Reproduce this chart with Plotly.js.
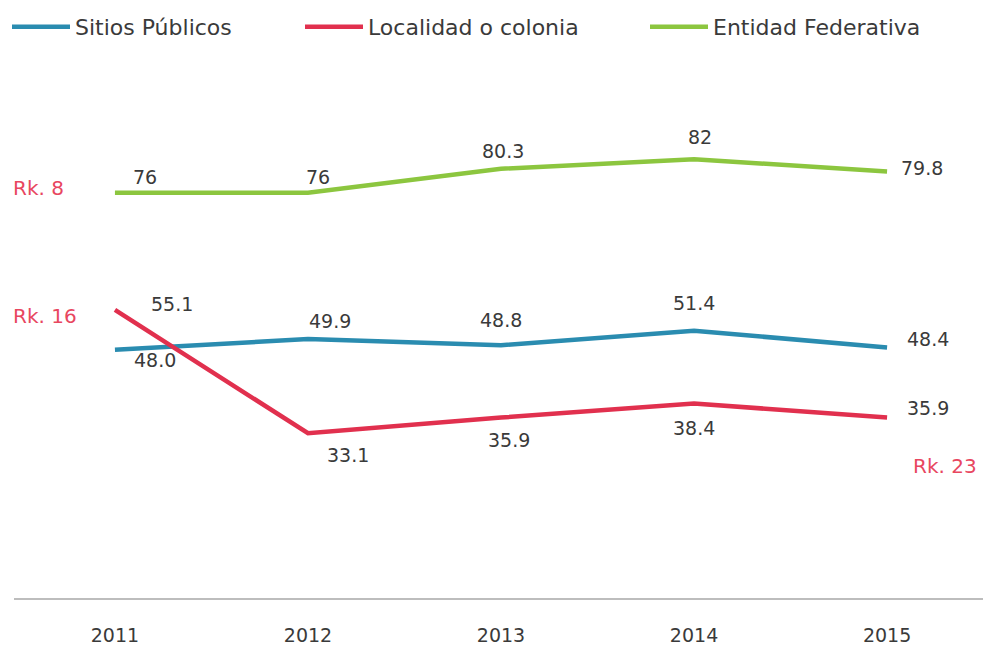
<!DOCTYPE html>
<html>
<head>
<meta charset="utf-8">
<script src="https://cdn.plot.ly/plotly-3.0.1.min.js"></script>
<style>html,body{margin:0;padding:0;background:#fff;}#chart{width:983px;height:648px;}</style>
</head>
<body>
<div id="chart"></div>
<script>
const years = [2011, 2012, 2013, 2014, 2015];
const sitiosPublicos = [48.0, 49.9, 48.8, 51.4, 48.4];
const localidadColonia = [55.1, 33.1, 35.9, 38.4, 35.9];
const entidadFederativa = [76, 76, 80.3, 82, 79.8];
const seriesNames = ["Sitios Públicos", "Localidad o colonia", "Entidad Federativa"];
const seriesColors = ["#2a8cb0", "#e1304e", "#8cc63f"];
const rankLabels = ["Rk. 8", "Rk. 16", "Rk. 23"];

const font = "'DejaVu Sans', sans-serif";
const textColor = "#3a3a3a";
const rankColor = "#e8475f";

const allSeries = [sitiosPublicos, localidadColonia, entidadFederativa];
const legendIds = ["legend", "legend2", "legend3"];
const traces = allSeries.map((vals, i) => ({
  x: years, y: vals, type: "scatter", mode: "lines", name: seriesNames[i],
  legend: legendIds[i],
  line: {color: seriesColors[i], width: 4.5},
  hoverinfo: "x+y"
}));

// label placement per series/point: [xshift, yshift, xanchor]
const offs = [
  [[40, -10, "center"], [22, 18, "center"], [0, 25, "center"], [0, 28, "center"], [18, 9, "left"]],
  [[57, 6, "center"], [40, -22, "center"], [8, -22, "center"], [0, -24, "center"], [18, 10, "left"]],
  [[30, 16, "center"], [10, 16, "center"], [2, 18, "center"], [6, 22, "center"], [12, 4, "left"]]
];
const fmt = (v, i) => (i === 2 ? String(v) : v.toFixed(1));
const annotations = [];
allSeries.forEach((vals, s) => {
  vals.forEach((v, k) => {
    annotations.push({
      x: years[k], y: v, xref: "x", yref: "y", text: fmt(v, s),
      showarrow: false, xshift: offs[s][k][0], yshift: offs[s][k][1], xanchor: offs[s][k][2],
      font: {family: font, size: 19, color: textColor}
    });
  });
});
const rkFont = {family: font, size: 20, color: rankColor};
annotations.push({x: years[0], y: entidadFederativa[0], xref: "x", yref: "y", text: rankLabels[0],
  showarrow: false, xanchor: "left", xshift: -104, yshift: 5, font: rkFont});
annotations.push({x: years[0], y: localidadColonia[0], xref: "x", yref: "y", text: rankLabels[1],
  showarrow: false, xanchor: "left", xshift: -104, yshift: -6, font: rkFont});
annotations.push({x: years[4], y: localidadColonia[4], xref: "x", yref: "y", text: rankLabels[2],
  showarrow: false, xanchor: "left", xshift: 24, yshift: -48, font: rkFont});

const legendBase = {
  orientation: "h", yref: "container", xref: "container",
  y: 1 - 27 / 648, yanchor: "middle", xanchor: "left",
  font: {family: font, size: 22, color: textColor},
  itemwidth: 58, bgcolor: "rgba(0,0,0,0)", borderwidth: 0
};

const layout = {
  width: 983, height: 648,
  paper_bgcolor: "#ffffff", plot_bgcolor: "#ffffff",
  margin: {l: 14, r: 0, t: 120, b: 50},
  showlegend: true,
  legend: Object.assign({}, legendBase, {x: 7 / 983}),
  legend2: Object.assign({}, legendBase, {x: 300 / 983}),
  legend3: Object.assign({}, legendBase, {x: 645 / 983}),
  xaxis: {
    range: [2010.477, 2015.497], showgrid: false, zeroline: false,
    showline: true, linecolor: "#bdbdbd", linewidth: 2,
    tickvals: years, ticktext: years.map(String), ticks: "",
    ticklabelstandoff: 19,
    tickfont: {family: font, size: 19, color: textColor},
    fixedrange: true
  },
  yaxis: {
    range: [3.7, 89], showgrid: false, zeroline: false, showline: false,
    showticklabels: false, ticks: "", fixedrange: true
  },
  annotations: annotations
};

Plotly.newPlot("chart", traces, layout, {displayModeBar: false, staticPlot: true});
</script>
</body>
</html>
